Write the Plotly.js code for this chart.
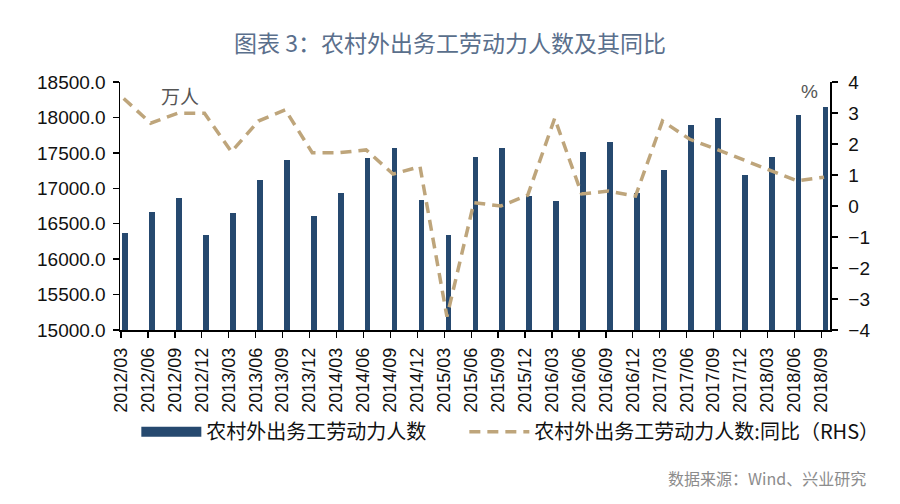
<!DOCTYPE html>
<html>
<head>
<meta charset="utf-8">
<script src="https://cdn.plot.ly/plotly-3.0.1.min.js"></script>
<style>html,body{margin:0;padding:0;background:#fff;}#chart{width:900px;height:504px;}</style>
</head>
<body>
<div id="chart"></div>
<script>
var categories = ["2012/03","2012/06","2012/09","2012/12","2013/03","2013/06","2013/09","2013/12",
  "2014/03","2014/06","2014/09","2014/12","2015/03","2015/06","2015/09","2015/12",
  "2016/03","2016/06","2016/09","2016/12","2017/03","2017/06","2017/09","2017/12",
  "2018/03","2018/06","2018/09"];
var workers = [16369,16670,16858,16345,16647,17112,17399,16604,
  16929,17423,17564,16839,16345,17446,17564,16886,
  16816,17516,17658,16929,17258,17893,17987,17187,
  17446,18034,18152];
var yoy = [3.47,2.67,2.99,2.99,1.75,2.74,3.10,1.72,
  1.72,1.81,1.03,1.27,-3.57,0.11,0.00,0.35,
  2.83,0.39,0.48,0.32,2.74,2.16,1.83,1.48,
  1.13,0.81,0.93];
var barName = "农村外出务工劳动力人数";
var lineName = "农村外出务工劳动力人数:同比（RHS）";

var idx = categories.map(function(c, i){ return i; });
var barX = idx.map(function(i){ return i + 0.05; });
var lineX = idx.map(function(i){ return i + 0.1; });

var cjk = '"Noto Sans CJK SC", "Noto Sans", sans-serif';
var latin = '"Liberation Sans", Arial, sans-serif';
var barColor = '#26496f';

var traces = [
  {
    type: 'bar', name: barName, x: barX, y: workers,
    offset: 0, width: 0.21,
    marker: {color: barColor},
    yaxis: 'y', showlegend: false
  },
  {
    type: 'scatter', mode: 'lines', name: barName, x: [null], y: [null],
    line: {color: barColor, width: 14},
    yaxis: 'y', showlegend: true, legend: 'legend'
  },
  {
    type: 'scatter', mode: 'lines', name: lineName, x: lineX, y: yoy,
    line: {color: '#bea57b', width: 3.5, dash: '11px,7px'},
    yaxis: 'y2', legend: 'legend2'
  }
];

var legendFont = {family: cjk, size: 20, color: '#111'};

var layout = {
  width: 900, height: 504,
  margin: {l: 120, r: 70, t: 82, b: 174},
  paper_bgcolor: '#ffffff', plot_bgcolor: '#ffffff',
  showlegend: true,
  title: {
    text: '图表 3：农村外出务工劳动力人数及其同比',
    font: {family: cjk, size: 23, color: '#5a6f8c'},
    x: 0.5, xanchor: 'center', xref: 'container',
    y: 1 - 44/504, yanchor: 'middle', yref: 'container'
  },
  xaxis: {
    range: [-0.037, 26.32],
    tickmode: 'array', tickvals: idx, ticktext: categories,
    tickangle: -90, ticklabelstandoff: 3,
    tickfont: {family: latin, size: 18, color: '#111'},
    ticks: 'outside', ticklen: 6, tickwidth: 1.3, tickcolor: '#000',
    showline: true, linecolor: '#000', linewidth: 1.5,
    showgrid: false, zeroline: false, fixedrange: true
  },
  yaxis: {
    range: [15000, 18500], dtick: 500, tick0: 15000, tickformat: '.1f',
    ticklabelstandoff: 3,
    tickfont: {family: latin, size: 19, color: '#111'},
    ticks: 'outside', ticklen: 6, tickwidth: 1.3, tickcolor: '#000',
    showline: true, linecolor: '#000', linewidth: 1.5,
    showgrid: false, zeroline: false, fixedrange: true
  },
  yaxis2: {
    range: [-4, 4], dtick: 1, tick0: -4,
    overlaying: 'y', side: 'right', ticklabelstandoff: 7,
    tickfont: {family: latin, size: 19, color: '#111'},
    ticks: 'outside', ticklen: 6, tickwidth: 1.3, tickcolor: '#000',
    showline: true, linecolor: '#000', linewidth: 1.5,
    showgrid: false, zeroline: false, fixedrange: true
  },
  legend: {
    orientation: 'h', x: 0.023, xanchor: 'left', y: -0.41, yanchor: 'middle',
    font: legendFont, itemwidth: 60,
    bgcolor: 'rgba(0,0,0,0)'
  },
  legend2: {
    orientation: 'h', x: 0.485, xanchor: 'left', y: -0.41, yanchor: 'middle',
    font: legendFont, itemwidth: 60,
    bgcolor: 'rgba(0,0,0,0)'
  },
  annotations: [
    {text: '万人', xref: 'paper', yref: 'paper', x: (180-120)/709.6, y: (330-96)/248,
     showarrow: false, font: {family: cjk, size: 19, color: '#555'}, xanchor: 'center', yanchor: 'middle'},
    {text: '%', xref: 'paper', yref: 'paper', x: (809-120)/709.6, y: (330-92)/248,
     showarrow: false, font: {family: latin, size: 19, color: '#555'}, xanchor: 'center', yanchor: 'middle'},
    {text: '数据来源：Wind、兴业研究', xref: 'paper', yref: 'paper', x: (868-120)/709.6, y: (330-478)/248,
     showarrow: false, font: {family: cjk, size: 16, color: '#8c8c8c'}, xanchor: 'right', yanchor: 'middle'}
  ],
  bargap: 0
};

Plotly.newPlot('chart', traces, layout, {displayModeBar: false, staticPlot: true});
</script>
</body>
</html>
